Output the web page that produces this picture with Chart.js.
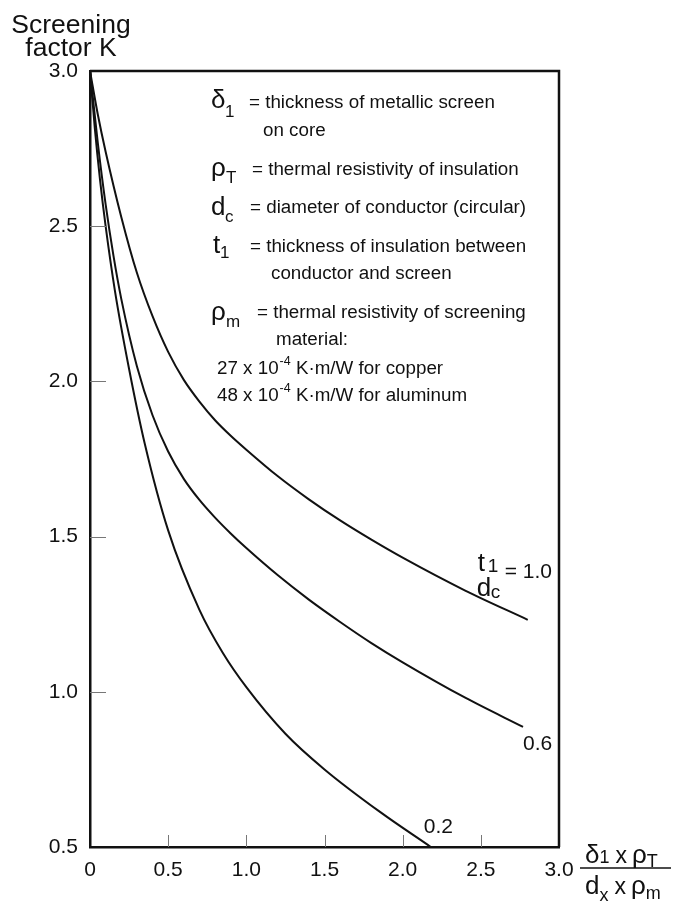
<!DOCTYPE html>
<html lang="en">
<head>
    <meta charset="UTF-8">
    <title>Screening factor K</title>
    <style>
        body {
            margin: 0;
            background: #fff;
        }
        canvas {
            display: block;
        }
    </style>
</head>
<body>
    <canvas id="screenChart" width="677" height="903"></canvas>

    <script src="https://cdn.jsdelivr.net/npm/chart.js"></script>
    <script>
        // values
        const xTicks = [0, 0.5, 1.0, 1.5, 2.0, 2.5, 3.0];
        const yTicks = [0.5, 1.0, 1.5, 2.0, 2.5, 3.0];

        const ratioLabels = ['1.0', '0.6', '0.2'];

        const x10 = [0, 0.05, 0.1, 0.2, 0.3, 0.4, 0.5, 0.6, 0.7, 0.8, 0.9, 1.0, 1.2, 1.4, 1.6, 1.8, 2.0, 2.4, 2.8];
        const k10 = [3.0, 2.86, 2.74, 2.53, 2.35, 2.21, 2.095, 2.005, 1.935, 1.875, 1.825, 1.78, 1.695, 1.62, 1.552, 1.49, 1.432, 1.326, 1.232];

        const x06 = [0, 0.05, 0.1, 0.15, 0.2, 0.3, 0.4, 0.5, 0.6, 0.7, 0.8, 0.9, 1.0, 1.2, 1.4, 1.6, 1.8, 2.0, 2.4, 2.77];
        const k06 = [3.0, 2.768, 2.57, 2.405, 2.266, 2.049, 1.891, 1.774, 1.686, 1.618, 1.561, 1.51, 1.463, 1.376, 1.297, 1.225, 1.157, 1.095, 0.981, 0.887];

        const x02 = [0, 0.03, 0.064, 0.1, 0.16, 0.25, 0.35, 0.5, 0.7, 0.85, 1.0, 1.25, 1.5, 1.855, 2.18];
        const k02 = [3.0, 2.82, 2.65, 2.5, 2.29, 2.04, 1.8, 1.52, 1.264, 1.125, 1.015, 0.865, 0.75, 0.613, 0.5];

        const titleLines = ['Screening', 'factor K'];

        const defSymbols = ['δ', 'ρ', 'd', 't', 'ρ'];
        const defSubs = ['1', 'T', 'c', '1', 'm'];
        const defTexts = [
            '= thickness of metallic screen',
            '= thermal resistivity of insulation',
            '= diameter of conductor (circular)',
            '= thickness of insulation between',
            '= thermal resistivity of screening'
        ];
        const defConts = ['on core', '', '', 'conductor and screen', 'material:'];
        const materialLines = [
            ['27 x 10', '-4', ' K·m/W for copper'],
            ['48 x 10', '-4', ' K·m/W for aluminum']
        ];

        const FONT = '"Liberation Sans", Arial, Helvetica, sans-serif';

        function toPoints(xs, ks) {
            return xs.map((v, i) => ({ x: v, y: ks[i] }));
        }

        function text(ctx, str, px, py, size, align) {
            ctx.font = size + 'px ' + FONT;
            ctx.textAlign = align || 'left';
            ctx.textBaseline = 'alphabetic';
            ctx.fillText(str, px, py);
            return ctx.measureText(str).width;
        }

        const annotations = {
            id: 'annotations',
            afterDraw(chart) {
                const { ctx, chartArea: a, scales } = chart;
                const xs = scales.x, ys = scales.y;
                ctx.save();
                ctx.fillStyle = '#111';
                ctx.strokeStyle = '#111';

                // top and right frame lines
                ctx.lineWidth = 2.5;
                ctx.beginPath();
                ctx.moveTo(a.left, a.top);
                ctx.lineTo(a.right, a.top);
                ctx.lineTo(a.right, a.bottom);
                ctx.stroke();

                // inward tick marks
                ctx.lineWidth = 1;
                ctx.strokeStyle = '#777';
                xTicks.slice(1, -1).forEach(v => {
                    const px = Math.round(xs.getPixelForValue(v)) + 0.5;
                    ctx.beginPath();
                    ctx.moveTo(px, a.bottom);
                    ctx.lineTo(px, a.bottom - 12);
                    ctx.stroke();
                });
                yTicks.slice(1, -1).forEach(v => {
                    const py = Math.round(ys.getPixelForValue(v)) + 0.5;
                    ctx.beginPath();
                    ctx.moveTo(a.left, py);
                    ctx.lineTo(a.left + 16, py);
                    ctx.stroke();
                });

                // axis title (y)
                text(ctx, titleLines[0], a.left - 19, a.top - 38, 26.5, 'center');
                text(ctx, titleLines[1], a.left - 19, a.top - 15, 26.5, 'center');

                // definitions block
                const L = a.left + 121;
                const T = a.top;
                const symX = [L, L, L, L + 2, L];
                const symBase = [37, 105, 144, 182, 249];
                const subX = [L + 14, L + 15, L + 14, L + 9, L + 15];
                const subBase = [46, 112, 151, 187, 256];
                const eqX = [249, 252, 250, 250, 257];
                const eqBase = [37, 104, 142, 181, 247];
                const contX = [263, 0, 0, 271, 276];
                const contBase = [65, 0, 0, 208, 274];
                defSymbols.forEach((s, i) => {
                    text(ctx, s, symX[i], T + symBase[i], 26);
                    text(ctx, defSubs[i], subX[i], T + subBase[i], 17);
                    text(ctx, defTexts[i], eqX[i], T + eqBase[i], 18.8);
                    if (defConts[i]) {
                        text(ctx, defConts[i], contX[i], T + contBase[i], 18.8);
                    }
                });
                materialLines.forEach((parts, i) => {
                    const base = T + 303 + i * 27;
                    let px = 217;
                    px += text(ctx, parts[0], px, base, 18.8);
                    px += text(ctx, parts[1], px + 1, base - 9, 12.5) + 1;
                    text(ctx, parts[2], px, base, 18.8);
                });

                // curve labels
                const end10 = { x: xs.getPixelForValue(x10[x10.length - 1]), y: ys.getPixelForValue(k10[k10.length - 1]) };
                text(ctx, 't', end10.x - 50, end10.y - 49, 26);
                text(ctx, '1', end10.x - 40, end10.y - 48, 19);
                text(ctx, 'd', end10.x - 51, end10.y - 24, 26);
                text(ctx, 'c', end10.x - 37, end10.y - 22, 19);
                text(ctx, '= ' + ratioLabels[0], end10.x - 23, end10.y - 42, 21);

                const end06 = { x: xs.getPixelForValue(x06[x06.length - 1]), y: ys.getPixelForValue(k06[k06.length - 1]) };
                text(ctx, ratioLabels[1], end06.x, end06.y + 23, 21);

                const end02 = { x: xs.getPixelForValue(x02[x02.length - 1]), y: ys.getPixelForValue(k02[k02.length - 1]) };
                text(ctx, ratioLabels[2], end02.x - 7, end02.y - 14, 21);

                // x axis title as a fraction
                const fx = a.right + 26;
                const fy = a.bottom + 21;
                let nx = fx;
                nx += text(ctx, 'δ', nx, fy - 5, 26);
                nx += text(ctx, '1', nx, fy - 5, 18) + 6;
                nx += text(ctx, 'x', nx, fy - 5, 23) + 5;
                nx += text(ctx, 'ρ', nx, fy - 5, 26);
                text(ctx, 'T', nx, fy - 1, 18);
                ctx.strokeStyle = '#111';
                ctx.lineWidth = 1.5;
                ctx.beginPath();
                ctx.moveTo(fx - 5, fy);
                ctx.lineTo(fx + 86, fy);
                ctx.stroke();
                let dx = fx;
                dx += text(ctx, 'd', dx, fy + 26, 26);
                dx += text(ctx, 'x', dx, fy + 33, 18) + 6;
                dx += text(ctx, 'x', dx, fy + 26, 23) + 5;
                dx += text(ctx, 'ρ', dx, fy + 26, 26);
                text(ctx, 'm', dx, fy + 31, 18);

                ctx.restore();
            }
        };

        const curveStyle = {
            showLine: true,
            borderColor: '#111',
            borderWidth: 2,
            pointRadius: 0,
            fill: false,
            cubicInterpolationMode: 'monotone'
        };

        const ctx = document.getElementById('screenChart').getContext('2d');
        new Chart(ctx, {
            type: 'scatter',
            data: {
                datasets: [
                    { ...curveStyle, label: ratioLabels[0], data: toPoints(x10, k10) },
                    { ...curveStyle, label: ratioLabels[1], data: toPoints(x06, k06) },
                    { ...curveStyle, label: ratioLabels[2], data: toPoints(x02, k02) }
                ]
            },
            options: {
                responsive: false,
                animation: false,
                layout: { padding: { top: 71, right: 118, left: 0, bottom: 0 } },
                plugins: {
                    legend: { display: false },
                    tooltip: { enabled: false }
                },
                scales: {
                    x: {
                        type: 'linear',
                        min: 0,
                        max: 3,
                        afterFit(scale) { scale.height = 56; },
                        afterBuildTicks(scale) { scale.ticks = xTicks.map(v => ({ value: v })); },
                        grid: { display: false, drawTicks: false },
                        border: { display: true, color: '#111', width: 2.5 },
                        ticks: {
                            autoSkip: false,
                            maxRotation: 0,
                            padding: 11,
                            color: '#111',
                            font: { family: FONT, size: 21 },
                            callback: v => v === 0 ? '0' : v.toFixed(1)
                        }
                    },
                    y: {
                        type: 'linear',
                        min: 0.5,
                        max: 3,
                        afterFit(scale) { scale.width = 90; },
                        afterBuildTicks(scale) { scale.ticks = yTicks.map(v => ({ value: v })); },
                        grid: { display: false, drawTicks: false },
                        border: { display: true, color: '#111', width: 2.5 },
                        ticks: {
                            autoSkip: false,
                            padding: 12,
                            color: '#111',
                            font: { family: FONT, size: 21 },
                            callback: v => v.toFixed(1)
                        }
                    }
                }
            },
            plugins: [annotations]
        });
    </script>
</body>
</html>
